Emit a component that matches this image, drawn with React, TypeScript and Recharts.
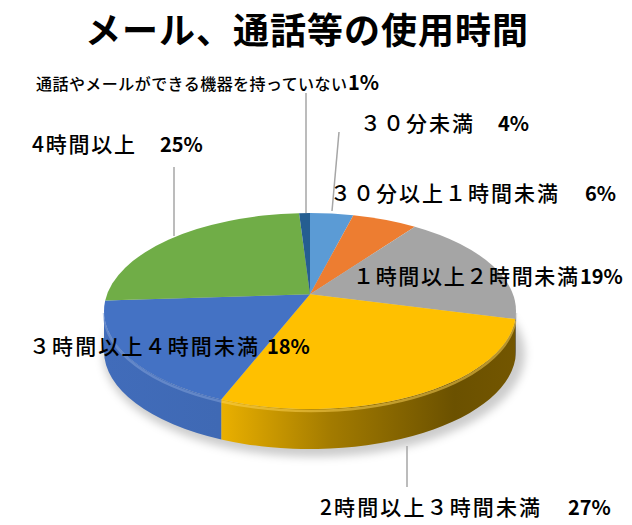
import React from 'react';
import { PieChart, Pie } from 'recharts';

const title = 'メール、通話等の使用時間';
const categories = [
  '３０分未満',
  '３０分以上１時間未満',
  '１時間以上２時間未満',
  '2時間以上３時間未満',
  '３時間以上４時間未満',
  '4時間以上',
  '通話やメールができる機器を持っていない',
];
const percents = [4, 6, 19, 27, 18, 25, 1];
const percentLabels = ['4%', '6%', '19%', '27%', '18%', '25%', '1%'];

const COLORS = ['#5B9BD5', '#ED7D31', '#A5A5A5', '#FFC000', '#4472C4', '#70AD47', '#255E91'];

// label layout (positions only)
const LABEL_LAYOUT = [
  { jx: 360, jy: 131, jw: 113, js: 21, nx: 498, ns: 20, line: [339, 132, 332, 211] },
  { jx: 330, jy: 201, jw: 228, js: 21, nx: 585, ns: 20, line: null },
  { jx: 353, jy: 284, jw: 225, js: 21, nx: 580, ns: 20, line: null },
  { jx: 320, jy: 515, jw: 220, js: 21, nx: 568, ns: 20, line: [407, 446, 407, 487] },
  { jx: 29, jy: 354, jw: 229, js: 21, nx: 267, ns: 20, line: null },
  { jx: 32, jy: 152, jw: 103, js: 21, nx: 160, ns: 20, line: [174, 167, 174, 236] },
  { jx: 36, jy: 90, jw: 311, js: 16, nx: 348, ns: 20, line: [306, 93, 306, 213] },
];

const data = categories.map((name, i) => ({ name, value: percents[i] }));

const W = 632;
const H = 525;
const CX = 310;
const CY = 311;
const R = 206;
const K = 98 / 206;
const DEPTH = 40;
const V = 0.17; // perspective shift of the pie centre toward the back
const ALPHA = (Math.asin(V) * 180) / Math.PI;

const JP_FONT = '"Noto Sans CJK JP", "Noto Sans", sans-serif';

function norm(a: number): [number, number] {
  const rad = (a * Math.PI) / 180;
  const c = Math.cos(rad);
  const s = Math.sin(rad);
  const den = 1 + V * s;
  return [(c * Math.sqrt(1 - V * V)) / den, (s + V) / den];
}

function pt(cx: number, cy: number, r: number, a: number, dy = 0): [number, number] {
  const [xn, yn] = norm(a);
  return [cx + r * xn, cy - r * K * yn + dy];
}

function phi(a: number): number {
  const [xn, yn] = norm(a);
  return (Math.atan2(yn, xn) * 180) / Math.PI;
}

function shade(hex: string, f: number): string {
  const n = parseInt(hex.slice(1), 16);
  const r = Math.round(((n >> 16) & 255) * f);
  const g = Math.round(((n >> 8) & 255) * f);
  const b = Math.round((n & 255) * f);
  const c = (v: number) => Math.max(0, Math.min(255, v)).toString(16).padStart(2, '0');
  return `#${c(r)}${c(g)}${c(b)}`;
}

function lighten(hex: string, t: number): string {
  const n = parseInt(hex.slice(1), 16);
  const mix = (v: number) => Math.round(v + (255 - v) * t);
  const r = mix((n >> 16) & 255);
  const g = mix((n >> 8) & 255);
  const b = mix(n & 255);
  const c = (v: number) => v.toString(16).padStart(2, '0');
  return `#${c(r)}${c(g)}${c(b)}`;
}

const renderSide = (props: any) => {
  const { cx, cy, outerRadius, startAngle, endAngle, index } = props;
  const hi = Math.max(startAngle, endAngle);
  const lo = Math.min(startAngle, endAngle);
  const a = Math.max(lo, -180 + ALPHA);
  const b = Math.min(hi, -ALPHA);
  const ry = outerRadius * K;
  let side = null;
  let rim = null;
  if (b > a) {
    const [x1, y1] = pt(cx, cy, outerRadius, b);
    const [x2, y2] = pt(cx, cy, outerRadius, a);
    const [x3, y3] = pt(cx, cy, outerRadius, a, DEPTH);
    const [x4, y4] = pt(cx, cy, outerRadius, b, DEPTH);
    const d = `M${x1},${y1} A${outerRadius},${ry} 0 0 1 ${x2},${y2} L${x3},${y3} A${outerRadius},${ry} 0 0 0 ${x4},${y4} Z`;
    side = <path d={d} fill={`url(#sideGrad${index})`} stroke="none" />;
    const rd = `M${x1},${y1 + 2} A${outerRadius},${ry} 0 0 1 ${x2},${y2 + 2}`;
    rim = <path d={rd} fill="none" stroke={lighten(COLORS[index], 0.35)} strokeOpacity={0.5} strokeWidth={2.5} />;
  }
  return (
    <g key={`side-${index}`}>
      {index === 0 && (
        <g>
          <defs>
            <filter id="pieShadow" x="-20%" y="-20%" width="140%" height="140%">
              <feGaussianBlur stdDeviation="4" />
            </filter>
            {COLORS.map((c, i) => (
              <linearGradient
                key={i}
                id={`sideGrad${i}`}
                gradientUnits="userSpaceOnUse"
                x1={cx - outerRadius}
                y1={0}
                x2={cx + outerRadius}
                y2={0}
              >
                <stop offset="0" stopColor={shade(c, 0.95)} />
                <stop offset="0.28" stopColor={shade(c, 0.92)} />
                <stop offset="0.55" stopColor={shade(c, 0.64)} />
                <stop offset="0.85" stopColor={shade(c, 0.42)} />
                <stop offset="1" stopColor={shade(c, 0.45)} />
              </linearGradient>
            ))}
          </defs>
          <ellipse
            cx={cx + 4}
            cy={cy + DEPTH + 3}
            rx={outerRadius + 5}
            ry={ry + 5}
            fill="#000"
            fillOpacity={0.2}
            filter="url(#pieShadow)"
          />
        </g>
      )}
      {side}
      {rim}
    </g>
  );
};

const renderTop = (props: any) => {
  const { cx, cy, outerRadius, startAngle, endAngle, index } = props;
  const hi = Math.max(startAngle, endAngle);
  const lo = Math.min(startAngle, endAngle);
  const ry = outerRadius * K;
  const [x1, y1] = pt(cx, cy, outerRadius, hi);
  const [x2, y2] = pt(cx, cy, outerRadius, lo);
  const ext = (((phi(hi) - phi(lo)) % 360) + 360) % 360;
  const large = ext > 180 ? 1 : 0;
  const vx = cx;
  const vy = cy - V * ry;
  const d = `M${vx},${vy} L${x1},${y1} A${outerRadius},${ry} 0 ${large} 1 ${x2},${y2} Z`;
  return <path key={`top-${index}`} d={d} fill={COLORS[index]} stroke="none" />;
};

const renderLabel = (props: any) => {
  const { index } = props;
  const L = LABEL_LAYOUT[index];
  return (
    <g key={`lab-${index}`}>
      {L.line && (
        <line x1={L.line[0]} y1={L.line[1]} x2={L.line[2]} y2={L.line[3]} stroke="#A6A6A6" strokeWidth={1.5} />
      )}
      <text
        x={L.jx}
        y={L.jy}
        fontFamily={JP_FONT}
        fontSize={L.js}
        fontWeight={500}
        fill="#000"
        textLength={L.jw}
        lengthAdjust="spacing"
      >
        {categories[index]}
      </text>
      <text x={L.nx} y={L.jy} fontFamily={JP_FONT} fontSize={L.ns} fontWeight={700} fill="#000">
        {percentLabels[index]}
      </text>
    </g>
  );
};

export default function App() {
  return (
    <div style={{ position: 'absolute', left: 0, top: 0, width: W, height: H, background: '#fff' }}>
      <PieChart width={W} height={H} margin={{ top: 0, right: 0, bottom: 0, left: 0 }}>
        <Pie
          data={data}
          dataKey="value"
          nameKey="name"
          cx={CX}
          cy={CY}
          outerRadius={R}
          startAngle={90}
          endAngle={-270}
          fill="none"
          stroke="none"
          isAnimationActive={false}
          labelLine={false}
          label={renderSide}
        />
        <Pie
          data={data}
          dataKey="value"
          nameKey="name"
          cx={CX}
          cy={CY}
          outerRadius={R}
          startAngle={90}
          endAngle={-270}
          fill="none"
          stroke="none"
          isAnimationActive={false}
          labelLine={false}
          label={renderTop}
        />
        <Pie
          data={data}
          dataKey="value"
          nameKey="name"
          cx={CX}
          cy={CY}
          outerRadius={R}
          startAngle={90}
          endAngle={-270}
          fill="none"
          stroke="none"
          isAnimationActive={false}
          labelLine={false}
          label={renderLabel}
        />
      </PieChart>
      <svg
        width={W}
        height={60}
        style={{ position: 'absolute', left: 0, top: 0, pointerEvents: 'none' }}
      >
        <text
          x={85}
          y={44}
          fontFamily={JP_FONT}
          fontSize={36}
          fontWeight={700}
          fill="#000"
          textLength={443}
          lengthAdjust="spacing"
        >
          {title}
        </text>
      </svg>
    </div>
  );
}
